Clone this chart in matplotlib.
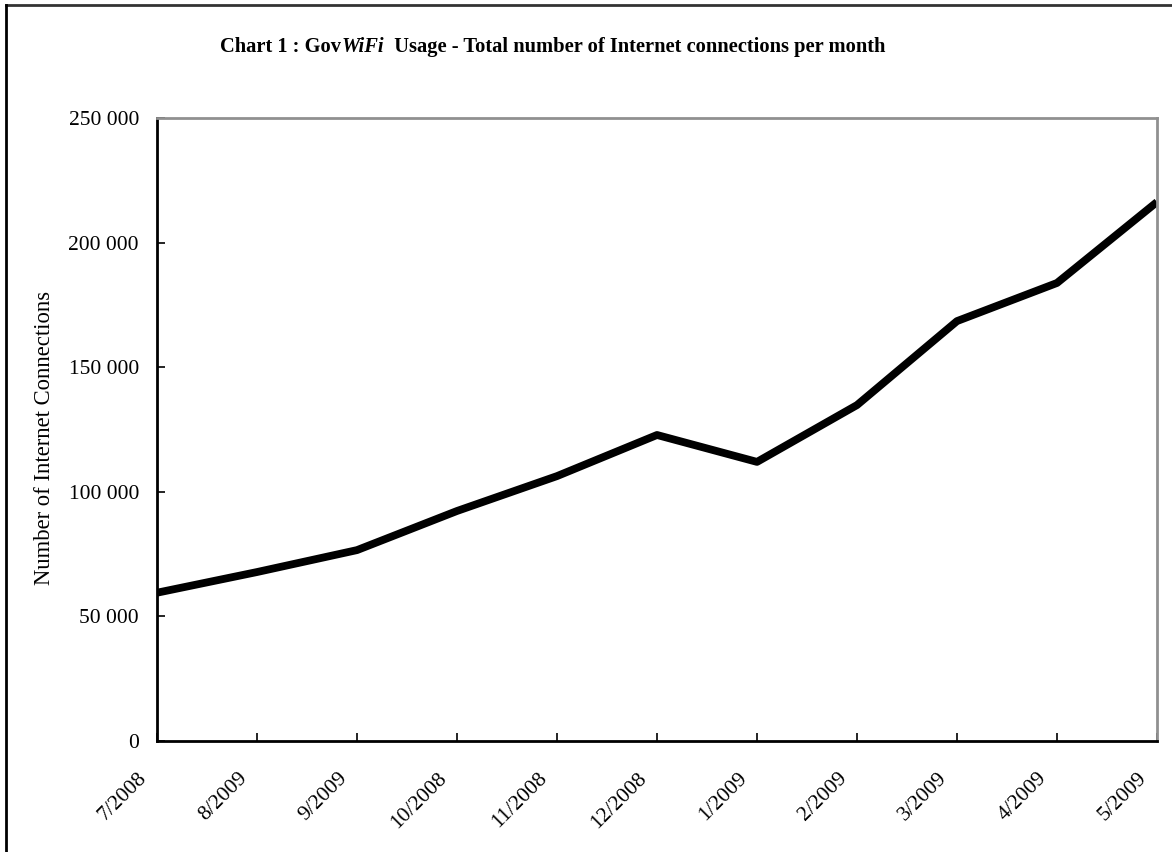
import matplotlib
matplotlib.use('Agg')
import matplotlib.pyplot as plt
from matplotlib.lines import Line2D
from matplotlib.ticker import FuncFormatter
from matplotlib.transforms import ScaledTranslation

plt.rcParams['font.family'] = ['Liberation Serif', 'DejaVu Serif']

# donnees
months = ['7/2008', '8/2009', '9/2009', '10/2008', '11/2008', '12/2008',
          '1/2009', '2/2009', '3/2009', '4/2009', '5/2009']
connections = [59500, 67800, 76600, 92300, 106300, 122800,
               112000, 134800, 168500, 183800, 216300]
y_ticks = [0, 50000, 100000, 150000, 200000, 250000]

W, H = 1172, 852
fig = plt.figure(figsize=(W / 100, H / 100), dpi=100)
ax = fig.add_axes([157 / W, 1 - 741 / H, 1000 / W, 623 / H])

x = list(range(len(months)))
ax.plot(x, connections, color='black', linewidth=5.6, solid_capstyle='butt')

ax.set_xlim(0, len(months) - 1)
ax.set_ylim(0, 250000)
ax.set_yticks(y_ticks)
ax.yaxis.set_major_formatter(FuncFormatter(lambda v, p: f'{int(v):,}'.replace(',', ' ')))
ax.set_xticks(x)
ax.set_xticklabels(months, rotation=45, ha='right', va='center', rotation_mode='anchor')
ax.tick_params(direction='in', length=6, width=1.2, labelsize=15.5, colors='black')
ax.tick_params(axis='x', pad=25)
ax.tick_params(axis='y', pad=13)
# decale les etiquettes x un peu a gauche
off = ScaledTranslation(-13 / 100, 0, fig.dpi_scale_trans)
for lab in ax.get_xticklabels():
    lab.set_transform(lab.get_transform() + off)

ax.spines['left'].set_linewidth(2)
ax.spines['bottom'].set_linewidth(2)
ax.spines['top'].set_color('#909090')
ax.spines['right'].set_color('#909090')
ax.spines['top'].set_linewidth(2)
ax.spines['right'].set_linewidth(2)

fig.text(44 / W, 1 - 438 / H, 'Number of Internet Connections', rotation=90,
         ha='center', va='center', fontsize=16.3)

# titre en trois morceaux (WiFi en italique)
parts = [('Chart 1 : Gov', 'normal'), ('WiFi', 'italic'),
         ('  Usage - Total number of Internet connections per month', 'normal')]
r = fig.canvas.get_renderer()
texts = []
for s, st in parts:
    t = fig.text(0, 1 - 47 / H, s, fontsize=14.8, fontweight='bold', style=st,
                 ha='left', va='center')
    texts.append(t)
widths = [t.get_window_extent(r).width for t in texts]
xpos = 553 - sum(widths) / 2
for t, w in zip(texts, widths):
    t.set_x(xpos / W)
    xpos += w

# cadre exterieur
fig.add_artist(Line2D([6 / W, 1], [1 - 5 / H, 1 - 5 / H], color='#333333', linewidth=2))
fig.add_artist(Line2D([6 / W, 6 / W], [0, 1 - 5 / H], color='black', linewidth=2))

fig.savefig('out.png', dpi=100)
